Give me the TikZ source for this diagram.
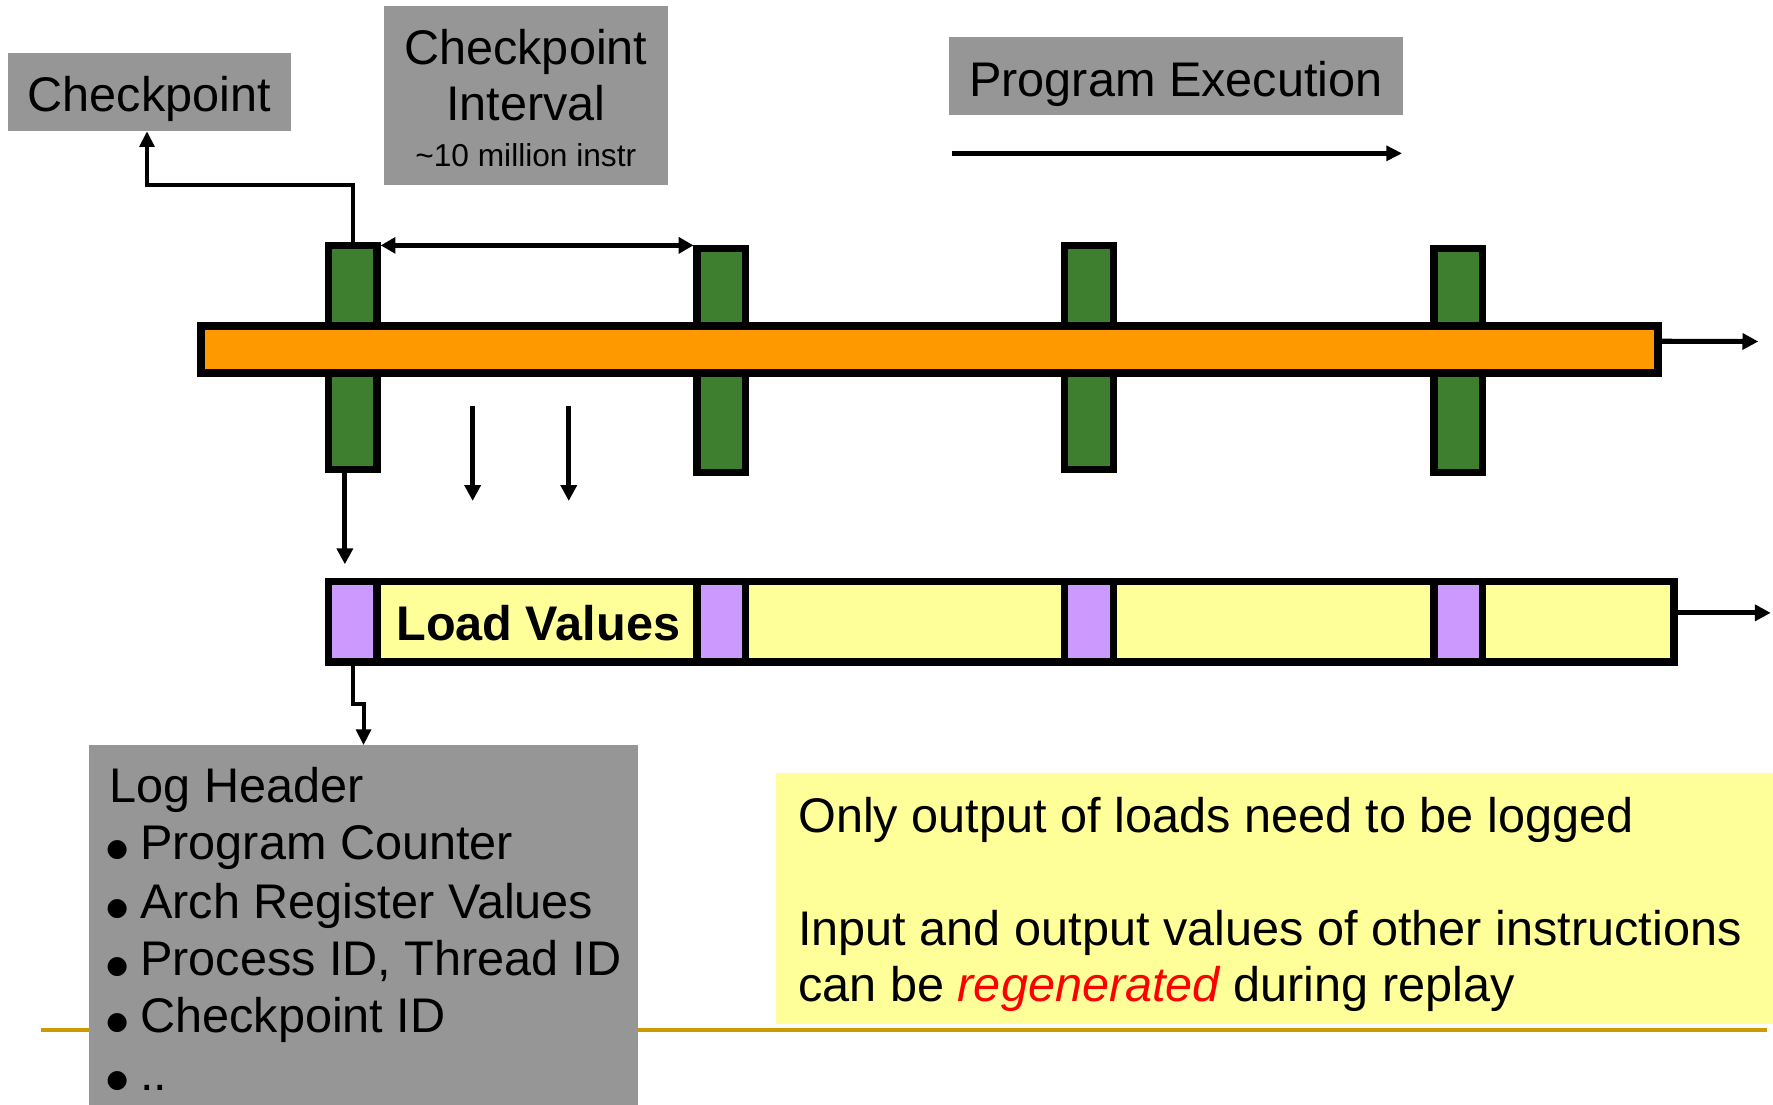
\documentclass[tikz,border=0pt]{standalone}
\usepackage{fontspec}
\setmainfont{Liberation Sans}
\newfontfamily\symfont{DejaVu Sans}
\usetikzlibrary{arrows.meta}

\definecolor{boxgray}{RGB}{150,150,150}
\definecolor{cpgreen}{RGB}{61,127,47}
\definecolor{barorange}{RGB}{255,153,0}
\definecolor{logyellow}{RGB}{255,255,153}
\definecolor{hdrpurple}{RGB}{204,153,255}
\definecolor{rulegold}{RGB}{204,153,0}

\newcommand\cpbig{\fontsize{43}{51}\selectfont}
\newcommand\cpsmall{\fontsize{28}{34}\selectfont}
\newcommand\cpbullet{{\symfont\fontsize{22}{24}\selectfont\raisebox{2.5pt}{●}}}

\tikzset{
  panel/.style={fill=boxgray, inner sep=0pt, outer sep=0pt},
  notebox/.style={fill=logyellow, inner sep=0pt, outer sep=0pt},
  lbl/.style={inner sep=0pt, outer sep=0pt, font=\cpbig},
  bar/.style={draw=black, line width=6.5pt, inner sep=0pt, outer sep=0pt, minimum width=43pt},
  ckpt/.style={bar, fill=cpgreen, minimum height=198pt},
  cell/.style={bar, fill=hdrpurple, minimum height=71pt},
  arr/.style={line width=4.5pt, -{Triangle[length=14pt,width=14pt]}},
  conn/.style={line width=3.5pt, -{Triangle[length=14pt,width=13pt]}},
  dimarr/.style={line width=4.5pt, {Triangle[length=13pt,width=14pt]}-{Triangle[length=13pt,width=14pt]}},
}

\begin{document}
\begin{tikzpicture}[x=1pt,y=-1pt]
  \useasboundingbox[fill=white] (0,0) rectangle (1568,977);

  % slide rule along the bottom
  \draw[rulegold, line width=3pt] (36,911) -- (1563,911);

  % caption panels
  \node[panel, minimum width=250pt, minimum height=69pt] (cpbox) at (132,81.5) {};
  \node[lbl, anchor=base] (cptext) at (132,99) {Checkpoint};

  \node[panel, minimum width=251pt, minimum height=159pt] (ivbox) at (465,84.5) {};
  \node[lbl, anchor=base] (ivtext1) at (465,56.6) {Checkpoint};
  \node[lbl, anchor=base] (ivtext2) at (465,107) {Interval};
  \node[lbl, anchor=base, font=\cpsmall] (ivtext3) at (465,147.4) {\textasciitilde10 million instr};

  \node[panel, minimum width=402pt, minimum height=69pt] (pebox) at (1040,67.5) {};
  \node[lbl, anchor=base] (petext) at (1040,85.5) {Program Execution};
  \coordinate (pestart) at (842,135.6);
  \coordinate (peend) at (1240,135.6);
  \draw[line width=4pt, -{Triangle[length=14pt,width=13pt]}] (pestart) -- (peend);

  % checkpoints along the execution
  \node[ckpt] (g1) at (312,316) {};
  \node[ckpt] (g2) at (638,319) {};
  \node[ckpt] (g3) at (963,316) {};
  \node[ckpt] (g4) at (1289.8,319) {};

  \node[draw=black, fill=barorange, line width=7pt, inner sep=0pt, outer sep=0pt,
        minimum width=1288pt, minimum height=41.5pt] (ob) at (822,308.8) {};
  \coordinate (obend) at (1555,302);
  \draw[arr] ([yshift=7pt]ob.east) -- (obend);

  % log: header cells and load values
  \node[bar, fill=logyellow, minimum width=1190pt, minimum height=71pt] (lb) at (885.5,550) {};
  \node[cell] (c1) at (312,550) {};
  \node[cell] (c2) at (638,550) {};
  \node[cell] (c3) at (963,550) {};
  \node[cell] (c4) at (1289.8,550) {};
  \node[lbl, anchor=base, font=\cpbig\bfseries] (lv) at (476,566) {Load Values};
  \coordinate (lbend) at (1566,542);
  \draw[arr] ([yshift=8pt]lb.east) -- (lbend);

  % connectors
  \draw[conn] (g1.north) |- ([xshift=-2pt]cpbox.south |- ivbox.south) -- ([xshift=-2pt]cpbox.south);
  \draw[dimarr] ([xshift=3.25pt]g1.north east) -- ([xshift=-3.25pt]g2.north west |- g1.north east);

  \coordinate (ld1s) at (418,359);
  \coordinate (ld1e) at (418,443);
  \coordinate (ld2s) at (503,359);
  \coordinate (ld2e) at (503,443);
  \draw[arr] (ld1s) -- (ld1e);
  \draw[arr] (ld2s) -- (ld2e);

  \coordinate (hdrtip) at (305,499);
  \draw[arr] (g1.south -| hdrtip) -- (hdrtip);

  % log header contents
  \node[panel, minimum width=485pt, minimum height=318pt] (lh) at (321.5,818) {};
  \draw[conn] (c1.south) -- ++(0,37) -| (lh.north);

  \node[lbl, anchor=base west] (lh0) at (97,710) {Log Header};
  \node[lbl, anchor=base west] (b1) at (94,760) {\cpbullet};
  \node[lbl, anchor=base west] (lh1) at (124,760) {Program Counter};
  \node[lbl, anchor=base west] (b2) at (94,812) {\cpbullet};
  \node[lbl, anchor=base west] (lh2) at (124,812) {Arch Register Values};
  \node[lbl, anchor=base west] (b3) at (94,863) {\cpbullet};
  \node[lbl, anchor=base west] (lh3) at (124,863) {Process ID, Thread ID};
  \node[lbl, anchor=base west] (b4) at (94,913) {\cpbullet};
  \node[lbl, anchor=base west] (lh4) at (124,913) {Checkpoint ID};
  \node[lbl, anchor=base west] (b5) at (94,964) {\cpbullet};
  \node[lbl, anchor=base west] (lh5) at (124,964) {..};

  % note
  \node[notebox, minimum width=882pt, minimum height=222pt] (note) at (1127,795) {};
  \node[lbl, anchor=base west] (n1) at (706,736) {Only output of loads need to be logged};
  \node[lbl, anchor=base west] (n2) at (706,836) {Input and output values of other instructions};
  \node[lbl, anchor=base west] (n3) at (706,886) {can be \textcolor{red}{\itshape regenerated} during replay};
\end{tikzpicture}
\end{document}
